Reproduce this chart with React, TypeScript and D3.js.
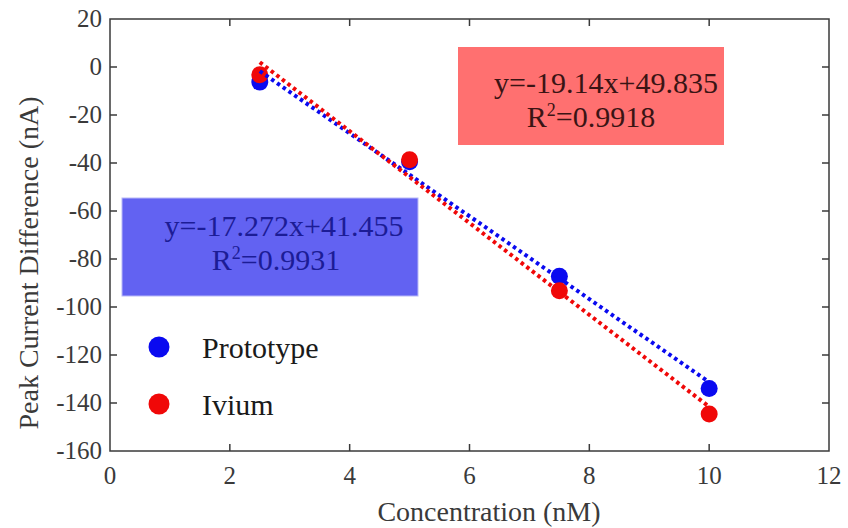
import React from "react";
import * as d3 from "d3";

// concentrations (nM)
const conc = [2.5, 5, 7.5, 10];
// peak current difference (nA)
const prototype = [-6.3, -39.5, -87.2, -134.0];
const ivium = [-3.2, -38.6, -93.2, -144.6];

// fit lines as printed in the boxes
const fitPrototype = { m: -17.272, b: 41.455, label: "y=-17.272x+41.455", r2: "0.9931" };
const fitIvium = { m: -19.14, b: 49.835, label: "y=-19.14x+49.835", r2: "0.9918" };

const xTicks = [0, 2, 4, 6, 8, 10, 12];
const yTicks = [20, 0, -20, -40, -60, -80, -100, -120, -140, -160];

const W = 848;
const H = 528;
const margin = { top: 19, right: 19, bottom: 77, left: 110 };
const font = "Liberation Serif";

export default function App() {
  const x = d3.scaleLinear().domain([0, 12]).range([margin.left, W - margin.right]);
  const y = d3.scaleLinear().domain([-160, 20]).range([H - margin.bottom, margin.top]);

  const fitLine = (f: { m: number; b: number }) =>
    d3.line<number>().x((d) => x(d)).y((d) => y(f.m * d + f.b))([conc[0], conc[conc.length - 1]]) || "";

  const blue = "#0a0af0";
  const red = "#f00808";
  const axisColor = "#3a3a3a";
  const x0 = margin.left, x1 = W - margin.right, y0 = H - margin.bottom, y1 = margin.top;
  const tf = { fontFamily: font };

  return (
    <svg width={W} height={H} style={{ position: "absolute", left: 0, top: 0, background: "#fff", fontFamily: font }}>
      {/* annotation boxes */}
      <rect x={458} y={47} width={266} height={98} fill="#ff7070" />
      <text x={606} y={93} textAnchor="middle" style={tf} fontSize={30} fill="#3a1414">
        {fitIvium.label}
      </text>
      <text x={591} y={127} textAnchor="middle" style={tf} fontSize={30} fill="#3a1414">
        R<tspan dy={-11} fontSize={18}>2</tspan><tspan dy={11}>={fitIvium.r2}</tspan>
      </text>

      <rect x={122} y={198} width={296} height={98} fill="#6262f2" stroke="#b8b8f8" strokeWidth={1} />
      <text x={284} y={236} textAnchor="middle" style={tf} fontSize={30} fill="#1c1c96">
        {fitPrototype.label}
      </text>
      <text x={276} y={270} textAnchor="middle" style={tf} fontSize={30} fill="#1c1c96">
        R<tspan dy={-11} fontSize={18}>2</tspan><tspan dy={11}>={fitPrototype.r2}</tspan>
      </text>

      {/* frame */}
      <rect x={x0} y={y1} width={x1 - x0} height={y0 - y1} fill="none" stroke={axisColor} strokeWidth={1.5} />
      {xTicks.slice(1, -1).map((t) => (
        <g key={"xt" + t}>
          <line x1={x(t)} x2={x(t)} y1={y0} y2={y0 - 7} stroke={axisColor} strokeWidth={1.5} />
          <line x1={x(t)} x2={x(t)} y1={y1} y2={y1 + 7} stroke={axisColor} strokeWidth={1.5} />
        </g>
      ))}
      {yTicks.slice(1, -1).map((t) => (
        <g key={"yt" + t}>
          <line x1={x0} x2={x0 + 7} y1={y(t)} y2={y(t)} stroke={axisColor} strokeWidth={1.5} />
          <line x1={x1} x2={x1 - 7} y1={y(t)} y2={y(t)} stroke={axisColor} strokeWidth={1.5} />
        </g>
      ))}
      {xTicks.map((t) => (
        <text key={"xl" + t} x={x(t)} y={y0 + 33} textAnchor="middle" style={tf} fontSize={25} fill={axisColor}>
          {t}
        </text>
      ))}
      {yTicks.map((t) => (
        <text key={"yl" + t} x={x0 - 8} y={y(t) + 8} textAnchor="end" style={tf} fontSize={25} fill={axisColor}>
          {t}
        </text>
      ))}
      <text x={489} y={521} textAnchor="middle" style={tf} fontSize={28} fill={axisColor}>
        Concentration (nM)
      </text>
      <text
        transform={`translate(38, ${(y0 + y1) / 2 + 28}) rotate(-90)`}
        textAnchor="middle"
        style={tf}
        fontSize={28}
        fill={axisColor}
      >
        Peak Current Difference (nA)
      </text>

      {/* points */}
      {conc.map((c, i) => (
        <circle key={"p" + i} cx={x(c)} cy={y(prototype[i])} r={8.5} fill={blue} />
      ))}
      {conc.map((c, i) => (
        <circle key={"iv" + i} cx={x(c)} cy={y(ivium[i])} r={8.5} fill={red} />
      ))}

      {/* fit lines */}
      <path d={fitLine(fitPrototype)} stroke={blue} strokeWidth={4} strokeDasharray="3.5,3.5" fill="none" />
      <path d={fitLine(fitIvium)} stroke={red} strokeWidth={4} strokeDasharray="3.5,3.5" fill="none" />

      {/* legend */}
      <circle cx={159} cy={347} r={10.5} fill={blue} />
      <text x={202} y={358} style={tf} fontSize={30} fill="#1a1a1a">Prototype</text>
      <circle cx={159} cy={404} r={10.5} fill={red} />
      <text x={202} y={415} style={tf} fontSize={30} fill="#1a1a1a">Ivium</text>
    </svg>
  );
}
